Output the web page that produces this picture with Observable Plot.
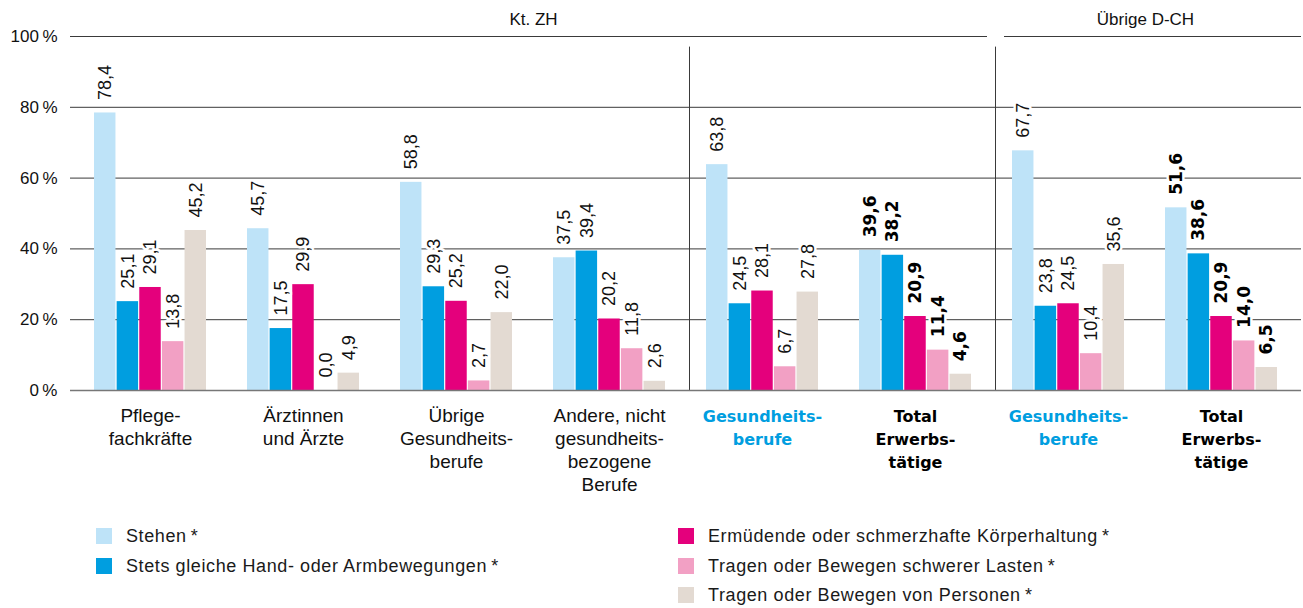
<!DOCTYPE html>
<html><head><meta charset="utf-8">
<script src="https://cdn.jsdelivr.net/npm/d3@7"></script>
<script src="https://cdn.jsdelivr.net/npm/@observablehq/plot@0.6"></script>
<style>
body{margin:0;background:#fff;font-family:"Liberation Sans",Arial,sans-serif;}
#chart{position:relative;width:1303px;height:608px;overflow:hidden;}
#chart svg{display:block;}
g[aria-label="xlabels"] text{letter-spacing:0.4px;}
.legend{position:absolute;top:515px;left:0;width:1303px;height:93px;}
.item{position:absolute;display:flex;align-items:center;height:20px;font-size:18px;letter-spacing:0.6px;color:#1a1a1a;white-space:nowrap;}
.sw{width:16px;height:16px;margin-right:14px;flex:none;}
</style></head><body><div id="chart"></div>
<script>
// ---- data ----
const groups = ["Pflegefachkräfte","Ärztinnen und Ärzte","Übrige Gesundheitsberufe","Andere, nicht gesundheitsbezogene Berufe","Gesundheitsberufe (Kt. ZH)","Total Erwerbstätige (Kt. ZH)","Gesundheitsberufe (Übrige D-CH)","Total Erwerbstätige (Übrige D-CH)"];
const groupLabels = ["Pflege-\nfachkräfte","Ärztinnen\nund Ärzte","Übrige\nGesundheits-\nberufe","Andere, nicht\ngesundheits-\nbezogene\nBerufe","Gesundheits-\nberufe","Total\nErwerbs-\ntätige","Gesundheits-\nberufe","Total\nErwerbs-\ntätige"];
const groupStyle = ["normal","normal","normal","normal","health","total","health","total"];
const regions = ["Kt. ZH","Übrige D-CH"];
const series = ["Stehen","Stets gleiche Hand- oder Armbewegungen","Ermüdende oder schmerzhafte Körperhaltung","Tragen oder Bewegen schwerer Lasten","Tragen oder Bewegen von Personen"];
const colors = ["#bee3f8","#009ee0","#e4007c","#f2a0c4","#e3dad2"];
const stehen   = [78.4,45.7,58.8,37.5,63.8,39.6,67.7,51.6];
const handArm  = [25.1,17.5,29.3,39.4,24.5,38.2,23.8,38.6];
const koerper  = [29.1,29.9,25.2,20.2,28.1,20.9,24.5,20.9];
const lasten   = [13.8,0.0,2.7,11.8,6.7,11.4,10.4,14.0];
const personen = [45.2,4.9,22.0,2.6,27.8,4.6,35.6,6.5];
const yTicks = [0,20,40,60,80,100];
const legendCol = [0,0,1,1,1];
const legendRow = [0,1,0,1,2];

// ---- layout ----
const W = 1303, H = 515, mL = 70, mR = 2, mT = 36, mB = 125;
const padIn = 0.265, padOut = 0.13;
let step, bw;
try {
  const s = Plot.scale({x:{type:"band", domain:groups, range:[mL, W-mR], paddingInner:padIn, paddingOuter:padOut}});
  step = s.step; bw = s.bandwidth;
} catch(e) {}
if (!step) { step = (W-mL-mR)/(groups.length - padIn + 2*padOut); bw = step*(1-padIn); }
const sub = bw/5;

const valuesBySeries = [stehen, handArm, koerper, lasten, personen];
const rows = [];
groups.forEach((g,i)=>series.forEach((s,k)=>rows.push({group:g, series:s, k, value:valuesBySeries[k][i], style:groupStyle[i]})));
const fmt = v => d3.format(".1f")(v).replace(".", ",");

const bars = series.map((s,k)=>Plot.barY(rows.filter(d=>d.k===k), {
  x:"group", y1:0, y2:"value", fill:colors[k], insetLeft:k*sub, insetRight:(4-k)*sub
}));
const labels = series.flatMap((s,k)=>[
  Plot.text(rows.filter(d=>d.k===k && d.style!=="total"), {
    x:"group", y:"value", text:d=>fmt(d.value), rotate:-90, textAnchor:"start", lineAnchor:"middle",
    dx:(k-2)*sub, dy:-13, fontSize:18, fill:"#111", stroke:"white", strokeWidth:5
  }),
  Plot.text(rows.filter(d=>d.k===k && d.style==="total"), {
    x:"group", y:"value", text:d=>fmt(d.value), rotate:-90, textAnchor:"start", lineAnchor:"middle",
    dx:(k-2)*sub, dy:-13, fontSize:17, fontWeight:"bold", fontFamily:"DejaVu Sans", fill:"#000", stroke:"white", strokeWidth:5
  })
]);
const lab = groups.map((g,i)=>({group:g, label:groupLabels[i], style:groupStyle[i]}));

const chart = Plot.plot({
  width:W, height:H, marginLeft:mL, marginRight:mR, marginTop:mT, marginBottom:mB,
  style:{fontFamily:"'Liberation Sans', Arial, sans-serif", fontSize:"17px", color:"#111", background:"white", overflow:"visible"},
  x:{type:"band", domain:groups, paddingInner:padIn, paddingOuter:padOut, axis:null},
  y:{domain:[0,100], ticks:yTicks, tickSize:0, tickPadding:13, tickFormat:d=>d+"\u2009%", label:null},
  marks:[
    Plot.ruleY(yTicks.filter(t=>t>0), {y:d=>d, stroke:"#3a3a3a", strokeWidth:1}),
    Plot.ruleX([groups[6]], {x:d=>d, y1:98, y2:102, dx:-step/2 + 4, stroke:"white", strokeWidth:17}),
    Plot.ruleX([groups[4], groups[6]], {x:d=>d, y1:0, y2:97, dx:-step/2 + 4, stroke:"#3a3a3a", strokeWidth:1}),
    ...bars,
    Plot.ruleY([0], {y:d=>d, stroke:"#777", strokeWidth:1.5}),
    ...labels,
    Plot.text([groups[2], groups[6]], {x:d=>d, y:100, text:(d,i)=>regions[i], dx:step/2, dy:-17, lineAnchor:"middle", fontSize:17, fill:"#111"}),
    Plot.text(lab.filter(d=>d.style==="normal"), {x:"group", y:0, text:"label", lineAnchor:"top", dy:15, fontSize:19, lineHeight:1.21, fill:"#111", ariaLabel:"xlabels"}),
    Plot.text(lab.filter(d=>d.style==="health"), {x:"group", y:0, text:"label", lineAnchor:"top", dy:15, fontSize:16, lineHeight:1.44, fontWeight:"bold", fontFamily:"DejaVu Sans", fill:"#009ee0"}),
    Plot.text(lab.filter(d=>d.style==="total"), {x:"group", y:0, text:"label", lineAnchor:"top", dy:15, fontSize:16, lineHeight:1.44, fontWeight:"bold", fontFamily:"DejaVu Sans", fill:"#000"})
  ]
});
const root = document.getElementById("chart");
root.appendChild(chart);

// ---- legend ----
const legend = document.createElement("div");
legend.className = "legend";
const colX = [{sw:96}, {sw:678}];
const rowTop = [11, 41, 70];
series.forEach((s,k)=>{
  const it = document.createElement("div");
  it.className = "item";
  it.style.left = colX[legendCol[k]].sw + "px";
  it.style.top = rowTop[legendRow[k]] + "px";
  const sw = document.createElement("span");
  sw.className = "sw"; sw.style.background = colors[k];
  const tx = document.createElement("span");
  tx.textContent = s + "\u2009*";
  it.appendChild(sw); it.appendChild(tx);
  legend.appendChild(it);
});
root.appendChild(legend);
</script>
</body></html>
